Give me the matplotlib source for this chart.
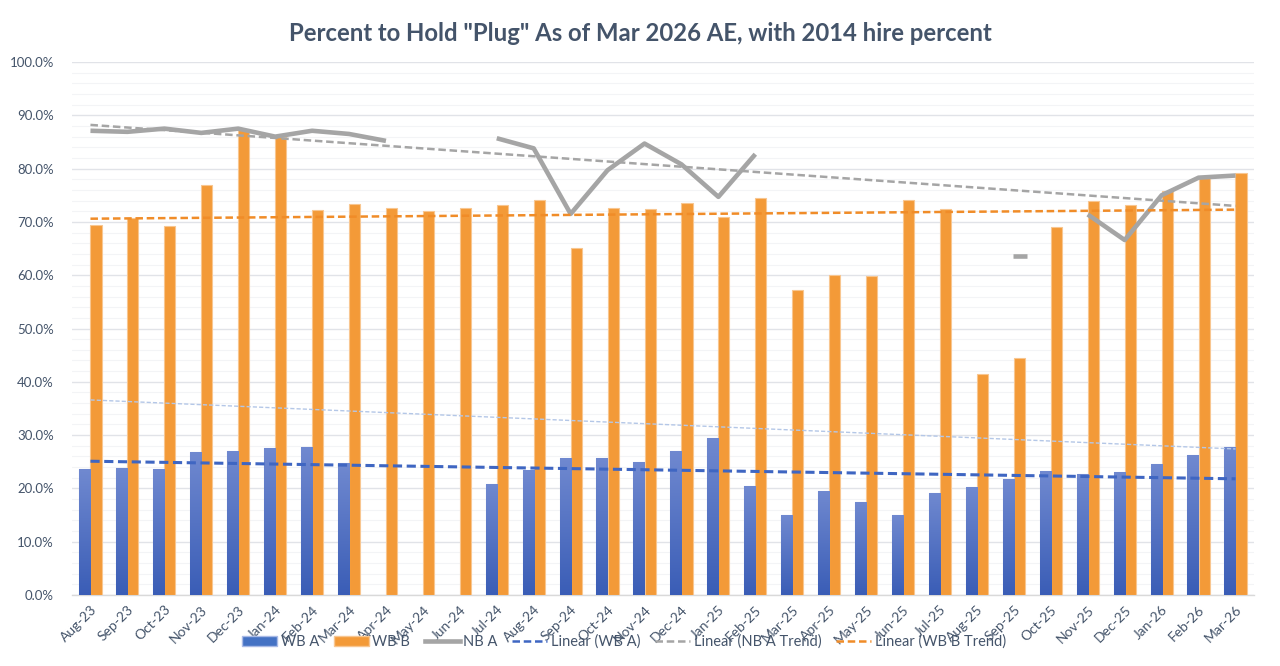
import numpy as np
import matplotlib
matplotlib.use("Agg")
import matplotlib.pyplot as plt
from matplotlib.patches import Patch
from matplotlib.lines import Line2D
from matplotlib.colors import LinearSegmentedColormap
from matplotlib.ticker import MultipleLocator, PercentFormatter

nan = np.nan

months = ['Aug-23', 'Sep-23', 'Oct-23', 'Nov-23', 'Dec-23', 'Jan-24', 'Feb-24', 'Mar-24',
          'Apr-24', 'May-24', 'Jun-24', 'Jul-24', 'Aug-24', 'Sep-24', 'Oct-24', 'Nov-24',
          'Dec-24', 'Jan-25', 'Feb-25', 'Mar-25', 'Apr-25', 'May-25', 'Jun-25', 'Jul-25',
          'Aug-25', 'Sep-25', 'Oct-25', 'Nov-25', 'Dec-25', 'Jan-26', 'Feb-26', 'Mar-26']

# percent values
wb_a = [23.6, 23.8, 23.6, 26.9, 27.1, 27.6, 27.75, 24.7, nan, nan, nan, 20.9, 23.4, 25.7, 25.7, 24.9,
        27.1, 29.4, 20.4, 15.0, 19.6, 17.5, 15.0, 19.2, 20.25, 21.7, 23.2, 22.75, 23.0, 24.6, 26.25, 27.7]
wb_b = [69.45, 70.7, 69.3, 77.0, 87.3, 86.0, 72.2, 73.3, 72.6, 72.0, 72.6, 73.2, 74.1, 65.1, 72.6, 72.4,
        73.5, 71.0, 74.5, 57.2, 60.1, 59.9, 74.1, 72.4, 41.5, 44.5, 69.1, 73.9, 73.2, 75.8, 78.3, 79.1]
nb_a = [87.1, 86.9, 87.5, 86.7, 87.5, 86.0, 87.1, 86.5, 85.2, nan, nan, 85.7, 83.8, 71.5, 79.7, 84.7,
        80.8, 74.7, 82.7, nan, nan, nan, nan, nan, nan, 63.6, nan, 71.4, 66.6, 75.0, 78.3, 78.7]

# linear trendlines (first month, last month)
trend_wb_a = [25.1, 21.8]
trend_nb_a = [88.2, 73.0]
trend_wb_b = [70.6, 72.3]
trend_extra = [36.6, 27.4]

title = 'Percent to Hold "Plug" As of Mar 2026 AE, with 2014 hire percent'

txt = '#44546A'
plt.rcParams['font.family'] = ['Lato', 'DejaVu Sans']

fig = plt.figure(figsize=(12.8, 6.66), dpi=100)
ax = fig.add_axes([0.05625, 0.1066, 0.9234, 0.8003])

x = np.arange(len(months))
w = 0.30
wb_a = np.array(wb_a); wb_b = np.array(wb_b); nb_a = np.array(nb_a)

bars_a = ax.bar(x - w / 2, wb_a, w, color='#4472C4', edgecolor='#A9BAE6', linewidth=0.8, zorder=3)
bars_b = ax.bar(x + w / 2, wb_b, w, color='#F39A38', edgecolor='#F8C690', linewidth=0.8, zorder=3)

# gradient fill on the blue bars
cmap = LinearSegmentedColormap.from_list('wba', ['#3A5DB6', '#7089D0'])
grad = np.linspace(0, 1, 256).reshape(-1, 1)
for b in bars_a:
    h = b.get_height()
    if not np.isfinite(h):
        continue
    im = ax.imshow(grad, extent=[b.get_x(), b.get_x() + b.get_width(), 0, h], origin='lower',
                   cmap=cmap, aspect='auto', zorder=3.1, interpolation='bilinear')
    im.set_clip_path(b)

ax.plot(x, nb_a, color='#A5A5A5', lw=3.3, solid_capstyle='butt', zorder=5)
iso = np.isfinite(nb_a) & ~np.isfinite(np.r_[nan, nb_a[:-1]]) & ~np.isfinite(np.r_[nb_a[1:], nan])
ax.plot(x[iso] + 0.17, nb_a[iso], ls='none', marker='_', ms=10, mew=3.3, color='#A5A5A5', zorder=5)

ends = [x[0], x[-1]]
ax.plot(ends, trend_extra, color='#B4C7E7', lw=1.0, ls=(0, (3, 1.5)), zorder=4)
ax.plot(ends, trend_wb_a, color='#3F66C2', lw=2.2, ls=(0, (3, 1.5)), zorder=6)
ax.plot(ends, trend_nb_a, color='#A5A5A5', lw=1.8, ls=(0, (3, 1.5)), zorder=6)
ax.plot(ends, trend_wb_b, color='#F08C28', lw=1.8, ls=(0, (3, 1.5)), zorder=6)

ax.set_xlim(-0.5, len(months) - 0.5)
ax.set_ylim(0, 100)
ax.yaxis.set_major_locator(MultipleLocator(10))
ax.yaxis.set_minor_locator(MultipleLocator(2))
ax.yaxis.set_major_formatter(PercentFormatter(decimals=1))
ax.grid(axis='y', which='major', color='#E1E3E8', lw=1.0, zorder=0)
ax.grid(axis='y', which='minor', color='#F3F4F6', lw=0.8, zorder=0)
ax.set_axisbelow(True)

ax.set_xticks(x)
ax.set_xticklabels(months, rotation=45, ha='right', rotation_mode='anchor')
ax.tick_params(axis='both', which='both', length=0, labelcolor=txt)
ax.tick_params(axis='x', pad=6, labelsize=10)
ax.tick_params(axis='y', pad=13, labelsize=9.5)
for s in ['top', 'right', 'left']:
    ax.spines[s].set_visible(False)
ax.spines['bottom'].set_color('#D9D9D9')
ax.spines['bottom'].set_linewidth(1.0)

fig.text(0.5, 0.950, title, ha='center', va='center', fontsize=17.2, fontweight='bold', color=txt)

handles = [
    Patch(facecolor='#4472C4', edgecolor='#A9BAE6'),
    Patch(facecolor='#F39A38', edgecolor='#F8C690'),
    Line2D([], [], color='#A5A5A5', lw=3.3),
    Line2D([], [], color='#3F66C2', lw=1.8, ls=(0, (3, 1.5))),
    Line2D([], [], color='#A5A5A5', lw=1.8, ls=(0, (3, 1.5))),
    Line2D([], [], color='#F08C28', lw=1.8, ls=(0, (3, 1.5))),
]
labels = ['WB A', 'WB B', 'NB A', 'Linear (WB A)', 'Linear (NB A Trend)', 'Linear (WB B Trend)']
leg = fig.legend(handles, labels, loc='center', bbox_to_anchor=(0.4875, 0.036), ncol=6,
                 frameon=False, fontsize=10.5, handlelength=2.4, handleheight=0.6,
                 columnspacing=1.0, handletextpad=0.25, labelcolor=txt)

fig.savefig('out.png', dpi=100, facecolor='white')
